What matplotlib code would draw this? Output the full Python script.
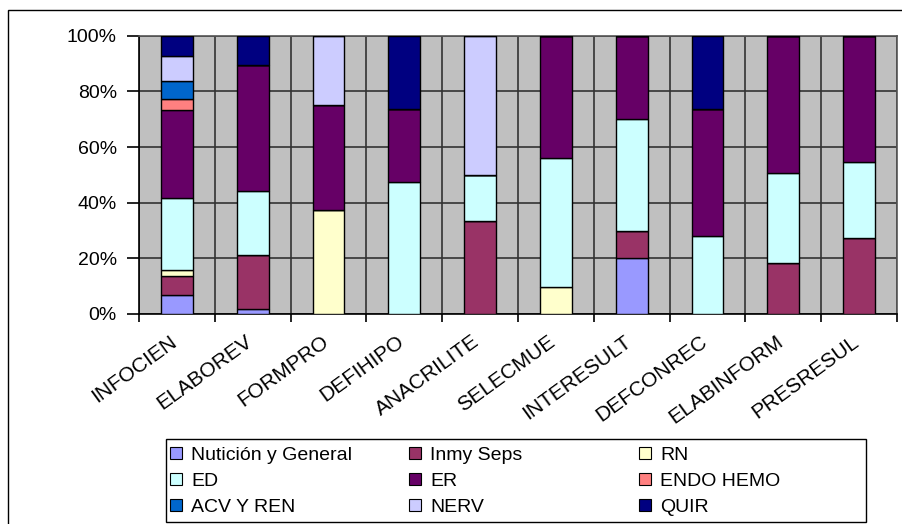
import numpy as np
import matplotlib
matplotlib.use("Agg")
import matplotlib.pyplot as plt
import matplotlib.transforms as mtransforms
from matplotlib.patches import Patch, Rectangle
from matplotlib.ticker import FuncFormatter

plt.rcParams['font.family'] = ['Liberation Sans', 'DejaVu Sans']

categories = ['INFOCIEN', 'ELABOREV', 'FORMPRO', 'DEFIHIPO', 'ANACRILITE',
              'SELECMUE', 'INTERESULT', 'DEFCONREC', 'ELABINFORM', 'PRESRESUL']

# percent of each column, bottom to top
nut = [6.9, 1.8, 0, 0, 0, 0, 20, 0, 0, 0]
inmy = [6.9, 19.4, 0, 0, 33.3, 0, 10, 0, 18.3, 27.3]
rn = [2.1, 0, 37.5, 0, 0, 9.8, 0, 0, 0, 0]
ed = [25.9, 23.1, 0, 47.4, 16.7, 46.3, 40, 27.9, 32.4, 27.3]
er = [31.5, 45.1, 37.5, 26.3, 0, 43.9, 30, 45.9, 49.3, 45.4]
endo = [3.8, 0, 0, 0, 0, 0, 0, 0, 0, 0]
acv = [6.7, 0, 0, 0, 0, 0, 0, 0, 0, 0]
nerv = [8.9, 0, 25, 0, 50, 0, 0, 0, 0, 0]
quir = [7.3, 10.6, 0, 26.3, 0, 0, 0, 26.2, 0, 0]

series_names = ['Nutición y General', 'Inmy Seps', 'RN', 'ED', 'ER',
                'ENDO HEMO', 'ACV Y REN', 'NERV', 'QUIR']
series = [nut, inmy, rn, ed, er, endo, acv, nerv, quir]
colors = ['#9999FF', '#993366', '#FFFFCC', '#CCFFFF', '#660066',
          '#FF8080', '#0066CC', '#CCCCFF', '#000080']

W, H = 902, 524
fig = plt.figure(figsize=(W / 100, H / 100), dpi=100)

def px(x0, y0, x1, y1):
    # pixel box (top-down y) -> figure fraction [l, b, w, h]
    return [x0 / W, 1 - y1 / H, (x1 - x0) / W, (y1 - y0) / H]

ax = fig.add_axes(px(139, 35.7, 897, 314))
ax.set_facecolor('#C0C0C0')

x = np.arange(len(categories))
bottom = np.zeros(len(categories))
for name, vals, col in zip(series_names, series, colors):
    vals = np.array(vals, dtype=float)
    ax.bar(x, vals, 0.42, bottom=bottom, color=col, edgecolor='black',
           linewidth=1.0, label=name, zorder=3)
    bottom += vals

ax.set_xlim(-0.5, len(categories) - 0.5)
ax.set_ylim(0, 100)
ax.set_yticks(np.arange(0, 101, 20))
ax.yaxis.set_major_formatter(FuncFormatter(lambda v, p: f'{v:.0f}%'))

# boundaries get ticks + vertical grid, centers get the labels
ax.set_xticks(np.arange(-0.5, len(categories), 1.0))
ax.set_xticklabels([])
ax.set_xticks(x, categories, minor=True)
ax.tick_params(axis='x', which='major', length=6, width=1.2, color='black')
ax.tick_params(axis='x', which='minor', length=0, pad=13, labelsize=15)
ax.tick_params(axis='y', length=9, width=1.2, pad=7, labelsize=14)
ax.grid(True, which='major', color='#333333', linewidth=1.2, zorder=1)
ax.set_axisbelow(True)

offset = mtransforms.ScaledTranslation(-8 / 100, 0, fig.dpi_scale_trans)
for lbl in ax.get_xticklabels(minor=True):
    lbl.set_rotation(36)
    lbl.set_ha('right')
    lbl.set_va('top')
    lbl.set_rotation_mode('anchor')
    lbl.set_transform(lbl.get_transform() + offset)

for s in ['top', 'right']:
    ax.spines[s].set_color('#555555')
    ax.spines[s].set_linewidth(1.2)
for s in ['left', 'bottom']:
    ax.spines[s].set_color('black')
    ax.spines[s].set_linewidth(1.2)

# outer chart border (right/bottom fall outside the image)
fig.patches.append(Rectangle((8 / W, -0.1), 1.2, 1 - 10 / H + 0.1,
                             transform=fig.transFigure, fill=False,
                             edgecolor='black', linewidth=1.0))

# legend box and three columns, filled row by row like the original
lb = px(166, 439, 866, 522)
fig.patches.append(Rectangle((lb[0], lb[1]), lb[2], lb[3],
                             transform=fig.transFigure, fill=False,
                             edgecolor='black', linewidth=1.0))

handles = [Patch(facecolor=c, edgecolor='black', linewidth=0.8) for c in colors]
col_x = [170, 409, 639]
for j, cx in enumerate(col_x):
    idx = [j, j + 3, j + 6]
    fig.legend([handles[i] for i in idx], [series_names[i] for i in idx],
               loc='upper left', bbox_to_anchor=(cx / W, 1 - 447 / H),
               frameon=False, fontsize=14, borderpad=0, borderaxespad=0,
               handlelength=0.62, handleheight=0.52, handletextpad=0.46,
               labelspacing=0.46)

fig.savefig('out.png', dpi=100)
